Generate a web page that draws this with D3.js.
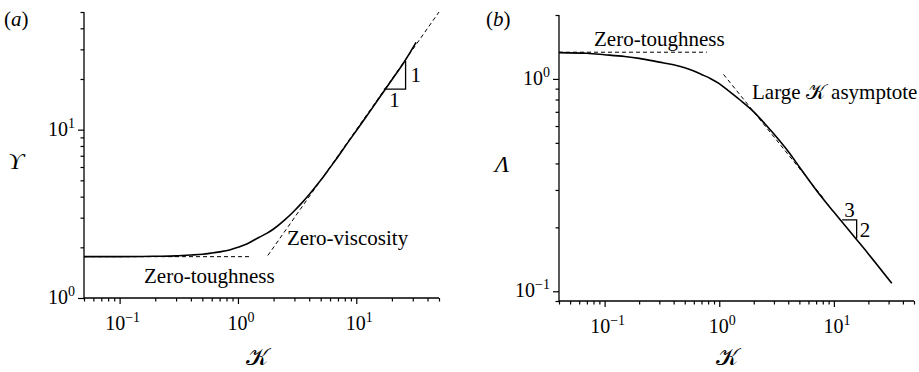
<!DOCTYPE html>
<html>
<head>
<meta charset="utf-8">
<script src="https://cdn.jsdelivr.net/npm/d3@7"></script>
<style>
  body { margin: 0; background: #fff; }
</style>
</head>
<body>
<svg id="chart" width="919" height="372" font-family="Liberation Serif, Times New Roman, serif"></svg>
<script>
// panel (a): Upsilon vs K
const kA = [0.05, 0.1, 0.2, 0.3, 0.4, 0.5, 0.6, 0.7, 0.85, 1.0, 1.2, 1.5, 1.75, 2, 2.5, 3, 3.5, 4, 5, 6, 7, 8.5, 10, 12, 15, 20, 25, 32];
const upsA = [1.76, 1.76, 1.77, 1.78, 1.80, 1.82, 1.85, 1.88, 1.93, 2.0, 2.1, 2.29, 2.42, 2.57, 2.92, 3.3, 3.7, 4.12, 5.0, 5.95, 6.9, 8.4, 9.85, 11.8, 14.8, 19.8, 24.8, 33];
const toughA = [[0.05, 1.76], [1.28, 1.76]];
const viscA = [[1.79, 1.79], [50, 50]];
const slopeA = [[17.1, 17.4], [26.1, 17.4], [26.1, 25.6]];

// panel (b): Lambda vs K
const kB = [0.04, 0.07, 0.1, 0.15, 0.2, 0.3, 0.4, 0.5, 0.6, 0.7, 0.85, 1.0, 1.2, 1.5, 2, 2.5, 3, 4, 5, 7, 10, 15, 20, 32];
const lamB = [1.33, 1.32, 1.30, 1.275, 1.25, 1.20, 1.165, 1.13, 1.09, 1.05, 1.0, 0.95, 0.88, 0.80, 0.70, 0.615, 0.55, 0.455, 0.385, 0.30, 0.236, 0.181, 0.150, 0.109];
const toughB = [[0.04, 1.336], [0.78, 1.336]];
const asymB = [[1.09, 1.05], [8, 0.277]];
const slopeB = [[11.8, 0.217], [15.8, 0.217], [15.8, 0.177]];

const majorX = [0.1, 1, 10];
const svg = d3.select("#chart");
const serif = "Liberation Serif";

function panel(o) {
    const x = d3.scaleLog().domain(o.xDomain).range(o.xRange);
    const y = d3.scaleLog().domain(o.yDomain).range(o.yRange);
    const g = svg.append("g").attr("font-family", serif);

    // minor + major ticks
    const minorX = x.ticks().filter(d => !majorX.includes(d));
    const minorY = y.ticks().filter(d => !o.majorY.includes(d));

    const axes = [
        [d3.axisBottom(x).tickValues(minorX).tickSize(3.5), `translate(0,${o.yRange[0]})`],
        [d3.axisBottom(x).tickValues(majorX).tickSize(6), `translate(0,${o.yRange[0]})`],
        [d3.axisLeft(y).tickValues(minorY).tickSize(3.5), `translate(${o.xRange[0]},0)`],
        [d3.axisLeft(y).tickValues(o.majorY).tickSize(6), `translate(${o.xRange[0]},0)`]
    ];
    axes.forEach(([ax, tr]) => {
        g.append("g").attr("transform", tr).call(ax.tickFormat(""))
            .call(s => s.select(".domain").remove())
            .call(s => s.selectAll("line").attr("stroke", "#000").attr("stroke-width", 1.2));
    });
    g.append("line").attr("x1", o.xRange[0]).attr("x2", o.xRange[1])
        .attr("y1", o.yRange[0]).attr("y2", o.yRange[0]).attr("stroke", "#000").attr("stroke-width", 1.3);
    g.append("line").attr("x1", o.xRange[0]).attr("x2", o.xRange[0])
        .attr("y1", o.yRange[0]).attr("y2", o.yRange[1]).attr("stroke", "#000").attr("stroke-width", 1.3);

    // tick labels 10^n
    const pow = d => Math.round(Math.log10(d));
    const expo = d => pow(d) < 0 ? "\u2212" + (-pow(d)) : String(pow(d));
    majorX.forEach(d => {
        const t = g.append("text").attr("x", x(d) + 3).attr("y", o.yRange[0] + 32)
            .attr("text-anchor", "middle").attr("font-size", 20);
        t.append("tspan").text("10");
        t.append("tspan").attr("dy", -8).attr("font-size", 14).text(expo(d));
    });
    o.majorY.forEach(d => {
        const t = g.append("text").attr("x", o.xRange[0] - 9).attr("y", y(d) + 6)
            .attr("text-anchor", "end").attr("font-size", 20);
        t.append("tspan").text("10");
        t.append("tspan").attr("dy", -8).attr("font-size", 14).text(expo(d));
    });

    const line = d3.line().x(d => x(d[0])).y(d => y(d[1]));
    o.dashes.forEach(pts => g.append("path").attr("d", line(pts)).attr("fill", "none")
        .attr("stroke", "#000").attr("stroke-width", 1).attr("stroke-dasharray", "4,3"));
    g.append("path").attr("d", line.curve(d3.curveMonotoneX)(d3.zip(o.k, o.v))).attr("fill", "none")
        .attr("stroke", "#000").attr("stroke-width", 1.6);
    line.curve(d3.curveLinear);
    g.append("path").attr("d", line(o.slope)).attr("fill", "none")
        .attr("stroke", "#000").attr("stroke-width", 1.3);

    // axis titles
    g.append("text").attr("x", (o.xRange[0] + o.xRange[1]) / 2 + o.xLabelShift).attr("y", 365)
        .attr("text-anchor", "middle").attr("font-size", 24)
        .attr("font-family", "DejaVu Serif").text("\u{1D4A6}");
    g.append("text").attr("x", o.yLabelX).attr("y", (o.yRange[0] + o.yRange[1]) / 2 + 14)
        .attr("text-anchor", "middle").attr("font-size", 24).attr("font-style", "italic").text(o.yLabel);
    g.append("text").attr("x", o.tagX).attr("y", 26).attr("font-size", 21)
        .html(`(<tspan font-style="italic">${o.tag}</tspan>)`);

    o.notes.forEach(n => {
        g.append("text").attr("x", x(n.k) + (n.dx || 0)).attr("y", y(n.v) + (n.dy || 0))
            .attr("font-size", n.size || 21).attr("text-anchor", n.anchor || "start").text(n.text);
    });
    return {x, y, g};
}

panel({
    xDomain: [0.05, 50], xRange: [84, 439],
    yDomain: [1, 50], yRange: [298, 12],
    majorY: [1, 10],
    k: kA, v: upsA, dashes: [toughA, viscA], slope: slopeA,
    yLabel: "\u03D2", yLabelX: 16, xLabelShift: -5, tag: "a", tagX: 4,
    notes: [
        {k: 0.05, v: 1.76, dx: 60, dy: 26, text: "Zero-toughness"},
        {k: 1.79, v: 1.79, dx: 19, dy: -10, text: "Zero-viscosity"},
        {k: 26.1, v: 21, dx: 5, dy: 7, text: "1"},
        {k: 21, v: 17.4, dy: 18, anchor: "middle", text: "1"}
    ]
});

const pb = panel({
    xDomain: [0.04, 50], xRange: [559, 914],
    yDomain: [0.09, 2], yRange: [301, 15],
    majorY: [0.1, 1],
    k: kB, v: lamB, dashes: [toughB, asymB], slope: slopeB,
    yLabel: "\u039B", yLabelX: 502, xLabelShift: -10, tag: "b", tagX: 486,
    notes: [
        {k: 0.04, v: 1.336, dx: 35, dy: -6, text: "Zero-toughness"},
        {k: 13.7, v: 0.217, dy: -3, anchor: "middle", text: "3"},
        {k: 15.8, v: 0.196, dx: 3, dy: 8, text: "2"}
    ]
});
// label with the script K inline
const lt = pb.g.append("text").attr("x", 752).attr("y", 99).attr("font-size", 21);
lt.append("tspan").text("Large ");
lt.append("tspan").attr("font-family", "DejaVu Serif").text("\u{1D4A6}");
lt.append("tspan").text(" asymptote");
</script>
</body>
</html>
